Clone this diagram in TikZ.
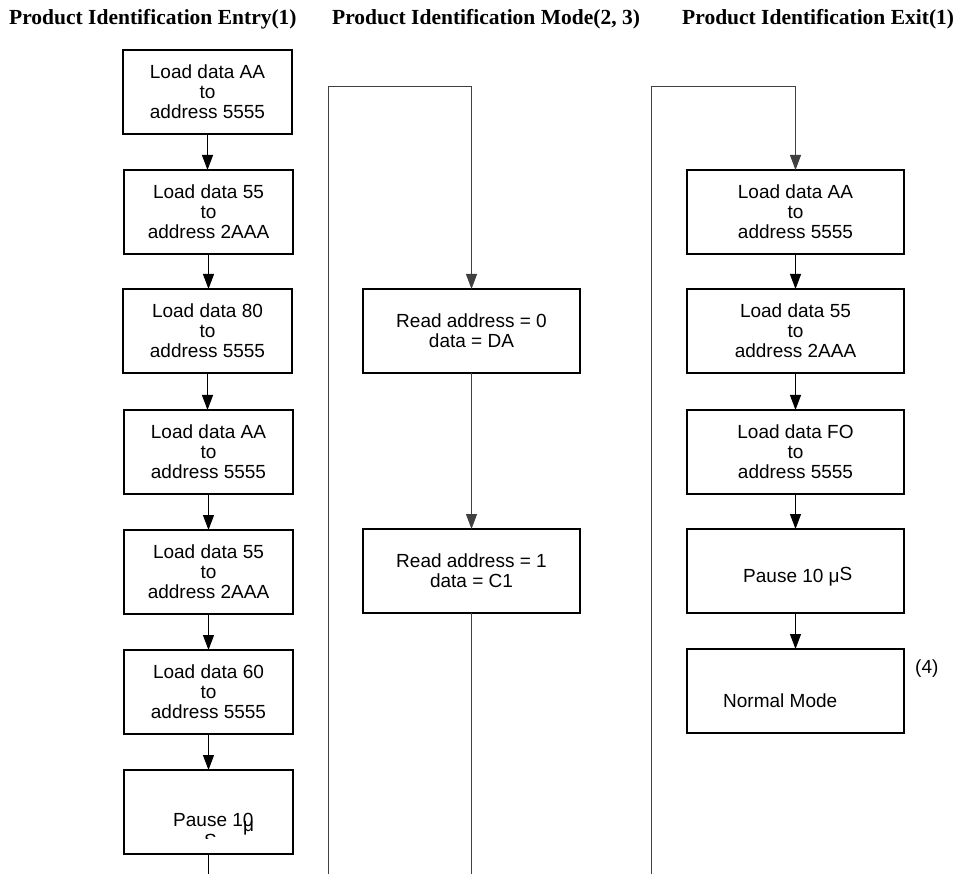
\documentclass[tikz,border=0pt]{standalone}
\usepackage{fontspec}
\setmainfont{Liberation Sans}
\newfontfamily\titlefont{Liberation Serif}
\usetikzlibrary{arrows.meta}
\begin{document}
\begin{tikzpicture}[x=1pt,y=-1pt,
  box/.style={draw, line width=2pt, minimum width=169pt, minimum height=84pt, inner sep=0pt, outer sep=0pt, align=center, font=\fontsize{19}{20}\selectfont},
  wbox/.style={box, minimum width=217pt, minimum height=84pt},
  txt/.style={anchor=base west, inner sep=0pt, font=\fontsize{19}{20}\selectfont},
  ttl/.style={anchor=base west, inner sep=0pt, font=\titlefont\bfseries\fontsize{21.5}{24}\selectfont},
  arr/.style={line width=1pt, -{Triangle[length=15pt,width=11pt]}},
  wire/.style={line width=1pt, draw=black!75},
]
\useasboundingbox (0,0) rectangle (956,874);

% titles
\node[ttl] (t1) at (9,25) {Product Identification Entry(1)};
\node[ttl] (t2) at (332,25) {Product Identification Mode(2, 3)};
\node[ttl] (t3) at (682,25) {Product Identification Exit(1)};

% left column
\node[box] (l1) at (207.5,92) {Load data AA\\to\\address 5555};
\node[box] (l2) at (208.5,212) {Load data 55\\to\\address 2AAA};
\node[box] (l3) at (207.5,331) {Load data 80\\to\\address 5555};
\node[box] (l4) at (208.5,452) {Load data AA\\to\\address 5555};
\node[box] (l5) at (208.5,572) {Load data 55\\to\\address 2AAA};
\node[box] (l6) at (208.5,692) {Load data 60\\to\\address 5555};
\node[box] (l7) at (208.5,812) {};
\node[txt] (p7a) at (173,826) {Pause 10};
\node[txt] (p7b) at (243,831) {μ};
\begin{scope}
  \clip (195,820) rectangle (225,838);
  \node[txt] (p7c) at (204,847) {S};
\end{scope}

\draw[arr] (l1.south) -- (l1.south |- l2.north);
\draw[arr] (l2.south) -- (l2.south |- l3.north);
\draw[arr] (l3.south) -- (l3.south |- l4.north);
\draw[arr] (l4.south) -- (l4.south |- l5.north);
\draw[arr] (l5.south) -- (l5.south |- l6.north);
\draw[arr] (l6.south) -- (l6.south |- l7.north);
\coordinate (lB) at (208.5,874);
\draw[line width=1pt] (l7.south) -- (lB);

% middle column
\node[wbox] (m1) at (471.5,331) {Read address = 0\\data = DA};
\node[wbox] (m2) at (471.5,571) {Read address = 1\\data = C1};
\coordinate (mL) at (328.5,874);
\coordinate (mT) at (471.5,86.5);
\coordinate (mB) at (471.5,874);
\draw[wire, arr] (mL) |- (mT) -- (m1.north);
\draw[wire, arr] (m1.south) -- (m2.north);
\draw[wire] (m2.south) -- (mB);

% right column
\node[wbox] (r1) at (795.5,212) {Load data AA\\to\\address 5555};
\node[wbox] (r2) at (795.5,331) {Load data 55\\to\\address 2AAA};
\node[wbox] (r3) at (795.5,452) {Load data FO\\to\\address 5555};
\node[wbox] (r4) at (795.5,571) {};
\node[txt] (p4) at (743,582) {Pause 10 μ\raisebox{1.5pt}{S}};
\node[wbox] (r5) at (795.5,691) {};
\node[txt] (nm) at (723,707) {Normal Mode};
\node[txt] (n4) at (915,673) {(4)};
\coordinate (rL) at (651.5,874);
\coordinate (rT) at (795.5,86.5);
\draw[wire, arr] (rL) |- (rT) -- (r1.north);
\draw[arr] (r1.south) -- (r2.north);
\draw[arr] (r2.south) -- (r3.north);
\draw[arr] (r3.south) -- (r4.north);
\draw[arr] (r4.south) -- (r5.north);
\end{tikzpicture}
\end{document}
